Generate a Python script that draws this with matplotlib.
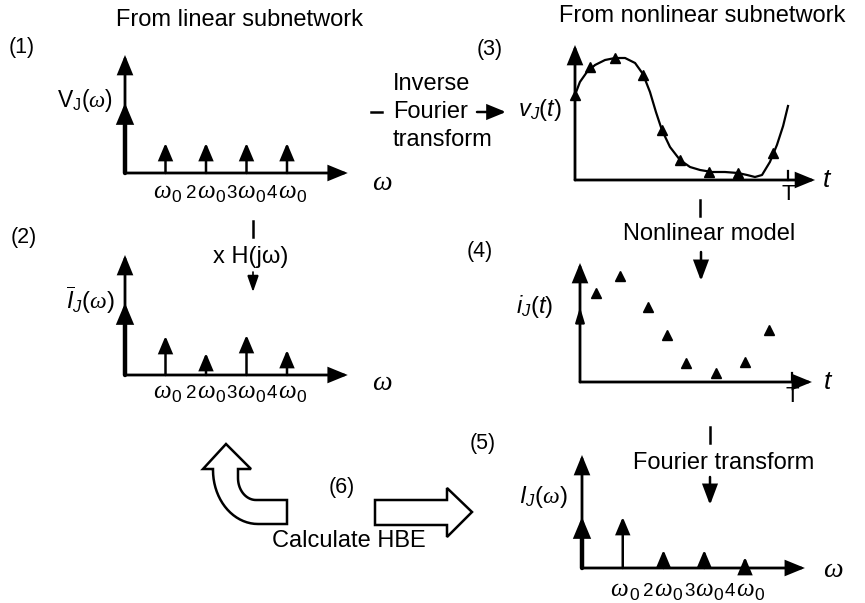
import numpy as np
import matplotlib.pyplot as plt
from matplotlib.patches import Polygon
from matplotlib.transforms import offset_copy

plt.rcParams['font.family'] = ['Liberation Sans', 'DejaVu Sans']
plt.rcParams['mathtext.fontset'] = 'custom'
plt.rcParams['mathtext.rm'] = 'Liberation Sans'
plt.rcParams['mathtext.it'] = 'Liberation Serif:italic'
plt.rcParams['mathtext.sf'] = 'Liberation Sans:italic'

W, H = 865, 603

# spectra: amplitude at harmonic 0 (DC) .. 4
harmonics = [0, 1, 2, 3, 4]
harm_mult = ['', '2', '3', '4']
V_spec = [0.70, 0.30, 0.30, 0.30, 0.30]
Ibar_spec = [0.72, 0.39, 0.22, 0.40, 0.25]
I_spec = [0.51, 0.51, 0.18, 0.18, 0.11]

# time domain (t in units of T)
v_curve_t = [0, 0.023, 0.056, 0.094, 0.141, 0.188, 0.235, 0.282, 0.319, 0.352, 0.380, 0.408, 0.446,
             0.493, 0.540, 0.587, 0.643, 0.704, 0.765, 0.808, 0.845, 0.878, 0.915, 0.948, 0.977, 1.0]
v_curve = [0.85, 0.98, 1.08, 1.15, 1.20, 1.22, 1.22, 1.17, 1.06, 0.88, 0.68, 0.50, 0.33,
           0.20, 0.13, 0.10, 0.08, 0.08, 0.07, 0.05, 0.03, 0.05, 0.18, 0.35, 0.54, 0.74]
v_samp_t = [0.070, 0.188, 0.319, 0.408, 0.493, 0.629, 0.765, 0.930]
v_samp = [1.13, 1.22, 1.05, 0.50, 0.20, 0.08, 0.07, 0.27]
i_samp_t = [0.075, 0.19, 0.32, 0.41, 0.50, 0.64, 0.78, 0.89]
i_samp = [0.89, 1.06, 0.75, 0.47, 0.19, 0.09, 0.20, 0.52]

fig = plt.figure(figsize=(W / 100, H / 100), dpi=100)
bg = fig.add_axes([0, 0, 1, 1])
bg.set_xlim(0, W)
bg.set_ylim(H, 0)
bg.axis('off')


def panel(x0, y0, sx, sy):
    ax = fig.add_axes([0, 0, 1, 1])
    ax.set_xlim(-x0 / sx, (W - x0) / sx)
    ax.set_ylim(-(H - y0) / sy, y0 / sy)
    ax.axis('off')
    ax.patch.set_alpha(0)
    return ax


def arrow(ax, p0, p1, lw, hl, hw):
    ax.annotate('', xy=p1, xytext=p0,
                arrowprops=dict(arrowstyle=f'-|>,head_length={hl},head_width={hw}',
                                lw=lw, color='k', shrinkA=0, shrinkB=0,
                                mutation_scale=10, joinstyle='miter'))


def axes_arrows(ax, xmax, ymax):
    arrow(ax, (0, 0), (xmax, 0), 2.0, 1.1, 0.45)
    arrow(ax, (0, 0), (0, ymax), 2.0, 1.1, 0.45)


def put(ax, x, y, s, dx, dy, size):
    tr = offset_copy(ax.transData, fig=fig, x=dx, y=dy, units='dots')
    ax.text(x, y, s, transform=tr, ha='center', va='baseline', fontsize=size)


def spectrum(ax, amps, xmax, ymax, lab_dy):
    axes_arrows(ax, xmax, ymax)
    for n, a in zip(harmonics, amps):
        if n == 0:
            arrow(ax, (0, 0), (0, a), 3.2, 1.0, 0.42)
        else:
            arrow(ax, (n, 0), (n, a), 1.8, 1.0, 0.42)
    for n, m in zip(harmonics[1:], harm_mult):
        if m:
            put(ax, n, 0, m, -15, -lab_dy, 13.5)
            put(ax, n, 0, r'$\omega$', 0, -lab_dy, 18)
            put(ax, n, 0, '0', 14, -lab_dy - 4, 12.5)
        else:
            put(ax, n, 0, r'$\omega$', -3, -lab_dy, 18)
            put(ax, n, 0, '0', 11, -lab_dy - 4, 12.5)


# (1) V_J
p1 = panel(125, 173, 40.5, 100)
spectrum(p1, V_spec, 5.5, 1.18, 25)
# (2) Ibar_J
p2 = panel(125, 375, 40.5, 100)
spectrum(p2, Ibar_spec, 5.5, 1.20, 23)
# (5) I_J
p5 = panel(582, 568, 40.75, 100)
spectrum(p5, I_spec, 5.47, 1.13, 28)

# (3) v_J(t)
p3 = panel(575, 180, 213, 100)
axes_arrows(p3, 1.127, 1.35)
p3.plot(v_curve_t, v_curve, color='k', lw=1.6)
p3.plot(v_samp_t, v_samp, ls='none', marker='^', ms=6.5, color='k')
p3.plot([0], [0.85], ls='none', marker='^', ms=6.5, color='k')
p3.plot([1, 1], [0, 0.09], color='k', lw=1.6)
p3.text(1, -0.04, 'T', ha='center', va='top', fontsize=16)

# (4) i_J(t)
p4 = panel(580, 382, 212, 100)
axes_arrows(p4, 1.094, 1.19)
p4.plot(i_samp_t, i_samp, ls='none', marker='^', ms=7, color='k')
arrow(p4, (0, 0.6), (0, 0.75), 1.2, 1.0, 0.3)
p4.plot([1, 1], [0, 0.09], color='k', lw=1.6)
p4.text(1, -0.04, 'T', ha='center', va='top', fontsize=16)

fs = 17
# titles and numbers
bg.text(240, 20, 'From linear subnetwork', ha='center', va='center', fontsize=fs)
bg.text(702, 16, 'From nonlinear subnetwork', ha='center', va='center', fontsize=fs)
for lab, x, y in [('(1)', 22, 48), ('(2)', 24, 237), ('(3)', 490, 50),
                  ('(4)', 480, 252), ('(5)', 483, 443), ('(6)', 342, 488)]:
    bg.text(x, y, lab, ha='center', va='center', fontsize=15.5)

# axis labels
bg.text(85, 101, r'V$_\mathrm{J}$($\omega$)', ha='center', va='center', fontsize=16.5)
bg.text(90, 300, r'$\overline{\mathsf{I}}_\mathsf{J}$($\omega$)', ha='center', va='center', fontsize=17)
bg.text(540, 110, r'$\mathsf{v}_\mathsf{J}$($\mathsf{t}$)', ha='center', va='center', fontsize=fs)
bg.text(535, 306, r'$\mathsf{i}_\mathsf{J}$($\mathsf{t}$)', ha='center', va='center', fontsize=fs)
bg.text(543, 497, r'$\mathsf{I}_\mathsf{J}$($\omega$)', ha='center', va='center', fontsize=fs)
for x, y in [(382, 183), (382, 383), (833, 570)]:
    bg.text(x, y, r'$\omega$', ha='center', va='center', fontsize=20)
bg.text(827, 180, r'$\mathsf{t}$', ha='center', va='center', fontsize=19)
bg.text(828, 382, r'$\mathsf{t}$', ha='center', va='center', fontsize=19)

# step annotations
bg.text(393, 84, 'Inverse', ha='left', va='center', fontsize=fs)
bg.text(393, 112, 'Fourier', ha='left', va='center', fontsize=fs)
bg.text(393, 140, 'transform', ha='left', va='center', fontsize=fs)
bg.plot([371, 382], [112, 112], color='k', lw=1.8)
arrow(bg, (477, 112), (506, 112), 1.8, 1.1, 0.45)

bg.text(251, 257, 'x H(jω)', ha='center', va='center', fontsize=fs)
bg.plot([253, 253], [221, 237], color='k', lw=1.8)
arrow(bg, (253, 272), (253, 292), 1.2, 1.0, 0.35)

bg.text(709, 234, 'Nonlinear model', ha='center', va='center', fontsize=fs)
bg.plot([700, 700], [200, 216], color='k', lw=1.8)
arrow(bg, (701, 252), (701, 281), 1.8, 1.2, 0.45)

bg.text(724, 463, 'Fourier transform', ha='center', va='center', fontsize=fs)
bg.plot([710, 710], [427, 443], color='k', lw=1.8)
arrow(bg, (710, 477), (710, 505), 1.8, 1.2, 0.45)

bg.text(349, 541, 'Calculate HBE', ha='center', va='center', fontsize=fs)

# block arrows
right_arrow = [(375, 500), (447, 500), (447, 488), (472, 512), (447, 537), (447, 525), (375, 525)]
bg.add_patch(Polygon(right_arrow, closed=True, fc='white', ec='k', lw=1.8, joinstyle='miter'))

th = np.linspace(0, np.pi / 2, 20)
inner = [(256 - 18 * np.cos(t), 478 + 22 * np.sin(t)) for t in th]
outer = [(258 - 45 * np.sin(t), 470 + 54 * np.cos(t)) for t in th]
bent = [(226, 444), (251, 469), (238, 469)] + inner + [(287, 500), (287, 524)] + outer + [(213, 469), (203, 469)]
bg.add_patch(Polygon(bent, closed=True, fc='white', ec='k', lw=1.8, joinstyle='miter'))

fig.savefig('out.png', dpi=100)
